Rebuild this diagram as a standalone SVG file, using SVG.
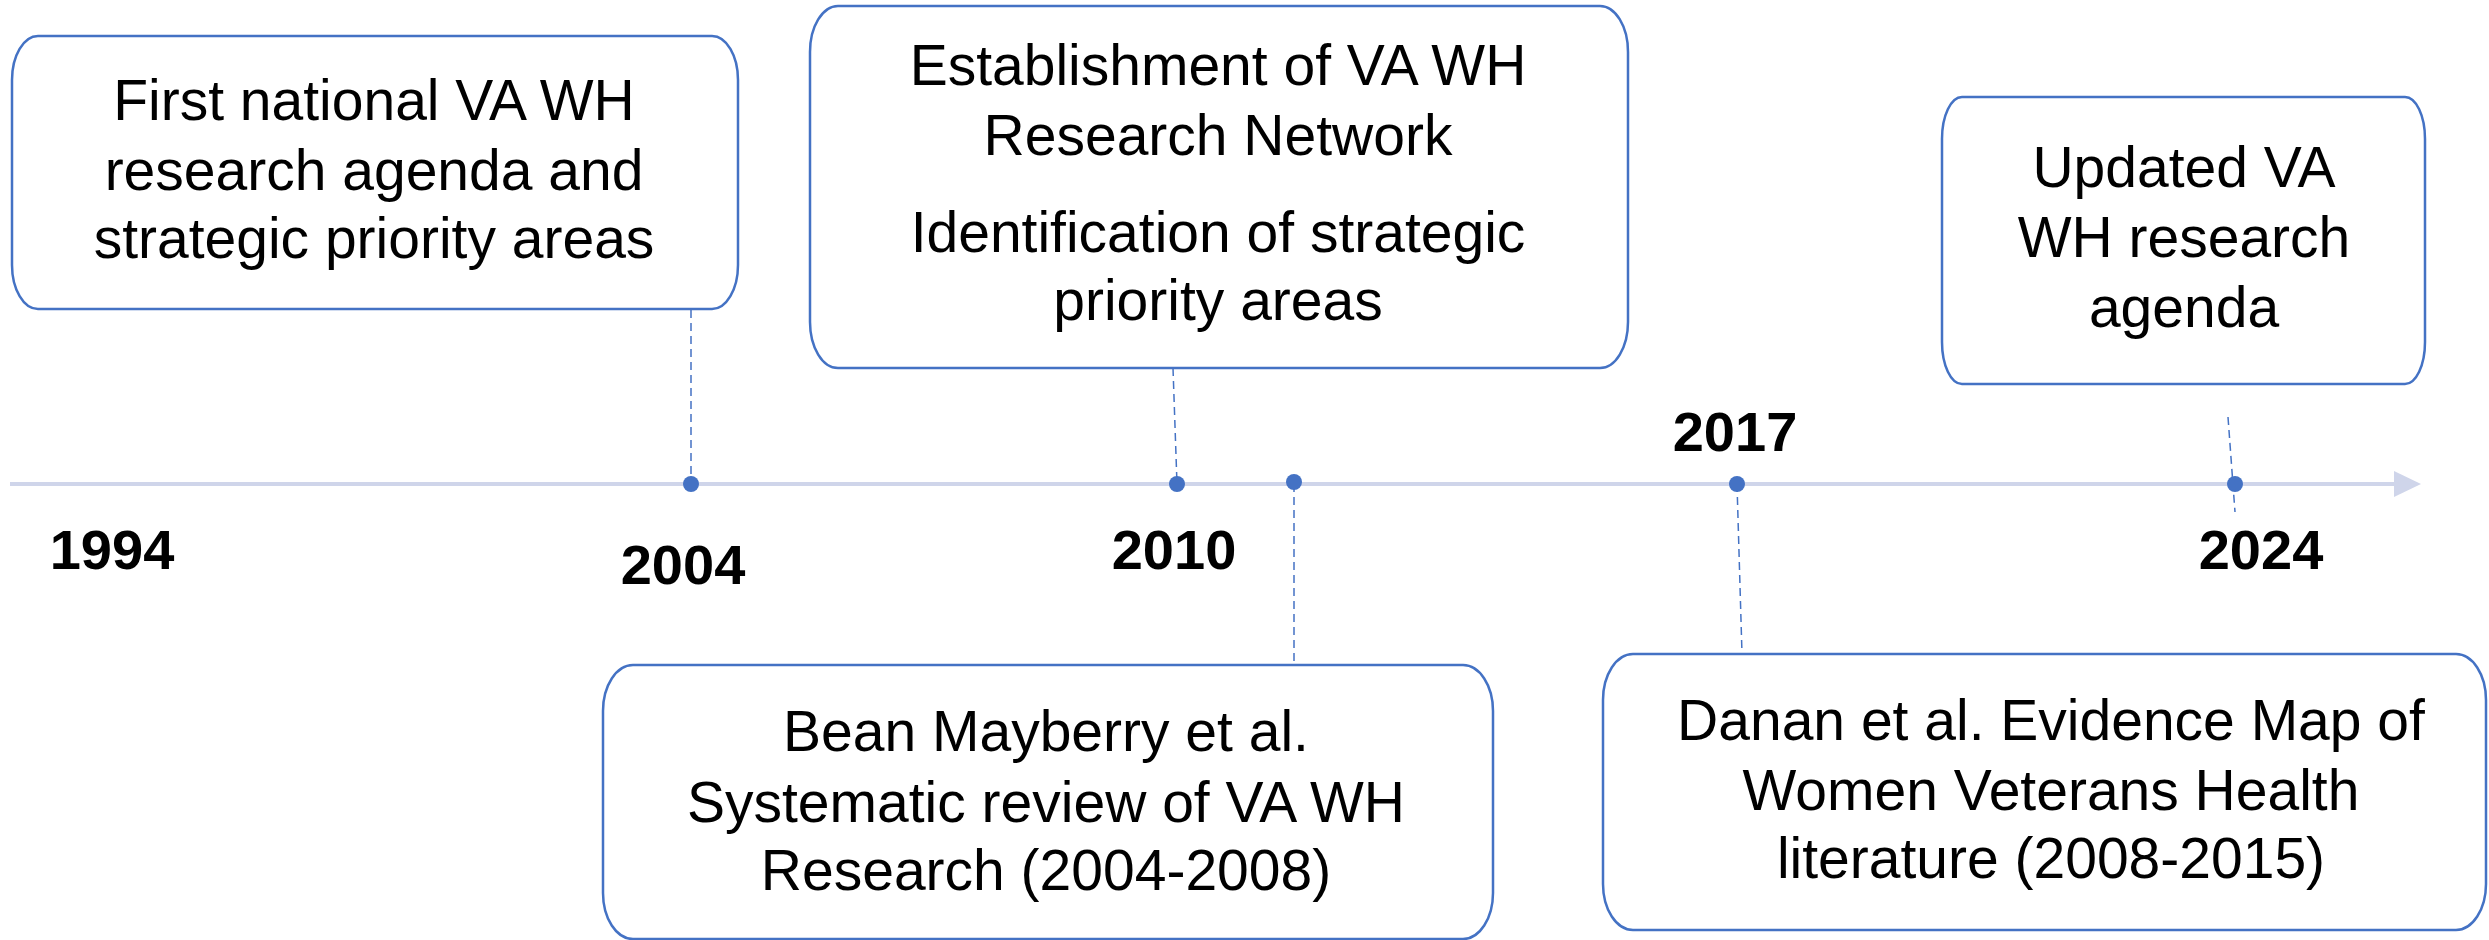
<svg xmlns="http://www.w3.org/2000/svg" width="2489" height="940" viewBox="0 0 2489 940">
<style>
.box{fill:#fff;stroke:#4472C4;stroke-width:2.5}
.t{font-family:"Liberation Sans",Arial,sans-serif;font-size:57px;fill:#000;text-anchor:middle}
.yr{font-family:"Liberation Sans",Arial,sans-serif;font-size:56px;font-weight:bold;fill:#000;text-anchor:middle}
.dash{stroke:#4472C4;stroke-width:1.5;stroke-dasharray:8 5;fill:none}
.dot{fill:#4472C4}
</style>
<rect width="2489" height="940" fill="#fff"/>
<g id="connectors">
<line x1="10" y1="484" x2="2396" y2="484" stroke="#CFD5EA" stroke-width="4"/>
<polygon points="2394,471 2421,484 2394,497" fill="#CFD5EA"/>
<line class="dash" x1="691" y1="310" x2="691" y2="484"/>
<line class="dash" x1="1173" y1="368" x2="1177" y2="484"/>
<line class="dash" x1="1294" y1="484" x2="1294" y2="665"/>
<line class="dash" x1="1737" y1="484" x2="1742" y2="654"/>
<line class="dash" x1="2228" y1="417" x2="2235" y2="512"/>
<ellipse class="dot" cx="691" cy="484" rx="8" ry="8"/>
<ellipse class="dot" cx="1177" cy="484" rx="8" ry="8"/>
<ellipse class="dot" cx="1294" cy="482" rx="8" ry="8"/>
<ellipse class="dot" cx="1737" cy="484" rx="8" ry="8"/>
<ellipse class="dot" cx="2235" cy="484" rx="8" ry="8"/>
</g>
<g id="years">
<text class="yr" x="112" y="569">1994</text>
<text class="yr" x="683" y="584">2004</text>
<text class="yr" x="1174" y="569">2010</text>
<text class="yr" x="1735" y="451">2017</text>
<text class="yr" x="2261" y="569">2024</text>
</g>
<g id="node-1994">
<rect class="box" x="12" y="36" width="726" height="273" rx="26" ry="44"/>
<text class="t" x="374" y="120">First national VA WH</text>
<text class="t" x="374" y="190">research agenda and</text>
<text class="t" x="374" y="258">strategic priority areas</text>
</g>
<g id="node-2010">
<rect class="box" x="810" y="6" width="818" height="362" rx="28" ry="46"/>
<text class="t" x="1218" y="85">Establishment of VA WH</text>
<text class="t" x="1218" y="155">Research Network</text>
<text class="t" x="1218" y="252">Identification of strategic</text>
<text class="t" x="1218" y="320">priority areas</text>
</g>
<g id="node-2024">
<rect class="box" x="1942" y="97" width="483" height="287" rx="20" ry="42"/>
<text class="t" x="2184" y="187">Updated VA</text>
<text class="t" x="2184" y="257">WH research</text>
<text class="t" x="2184" y="327">agenda</text>
</g>
<g id="node-bean">
<rect class="box" x="603" y="665" width="890" height="274" rx="30" ry="46"/>
<text class="t" x="1046" y="751">Bean Mayberry et al.</text>
<text class="t" x="1046" y="822">Systematic review of VA WH</text>
<text class="t" x="1046" y="890">Research (2004-2008)</text>
</g>
<g id="node-danan">
<rect class="box" x="1603" y="654" width="883" height="276" rx="30" ry="46"/>
<text class="t" x="2051" y="740">Danan et al. Evidence Map of</text>
<text class="t" x="2051" y="810">Women Veterans Health</text>
<text class="t" x="2051" y="878">literature (2008-2015)</text>
</g>
</svg>
